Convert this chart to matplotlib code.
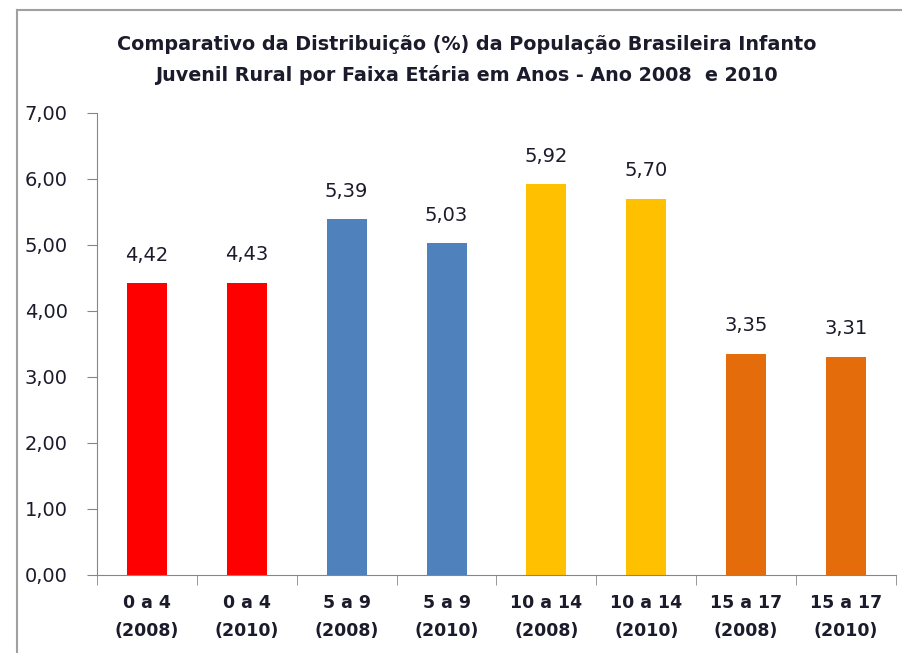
import numpy as np
import matplotlib.pyplot as plt
from matplotlib.lines import Line2D

categories = ['0 a 4\n(2008)', '0 a 4\n(2010)', '5 a 9\n(2008)', '5 a 9\n(2010)',
              '10 a 14\n(2008)', '10 a 14\n(2010)', '15 a 17\n(2008)', '15 a 17\n(2010)']
values = [4.42, 4.43, 5.39, 5.03, 5.92, 5.70, 3.35, 3.31]
colors = ['#FF0000', '#FF0000', '#4F81BD', '#4F81BD',
          '#FFC000', '#FFC000', '#E46C0A', '#E46C0A']

narrow = ['DejaVu Sans']
txt = '#1b1b2b'

fig = plt.figure(figsize=(9.03, 6.53), dpi=100)
ax = fig.add_axes([97/903, 1-575/653, (896-97)/903, (575-113)/653])

x = np.arange(len(values))
bars = ax.bar(x, values, width=0.4, color=colors)

ax.set_xlim(-0.5, len(values) - 0.5)
ax.set_ylim(0, 7)
ax.set_yticks(np.arange(0, 8))
ax.set_yticklabels([('%.2f' % v).replace('.', ',') for v in np.arange(0, 8)],
                   fontsize=14, color=txt)
ax.set_xticks(x)
ax.set_xticklabels(categories, fontsize=12.5, fontweight='bold', family=narrow,
                   color=txt, linespacing=1.65)
ax.tick_params(axis='x', length=0, pad=14)
ax.tick_params(axis='y', length=7, color='#868686', pad=14)

# category separator ticks
ax.set_xticks(np.arange(-0.5, len(values)), minor=True)
ax.tick_params(axis='x', which='minor', length=7, color='#868686')

for s in ['top', 'right']:
    ax.spines[s].set_visible(False)
for s in ['left', 'bottom']:
    ax.spines[s].set_color('#868686')

for b, v in zip(bars, values):
    ax.text(b.get_x() + b.get_width() / 2, v + 0.28, ('%.2f' % v).replace('.', ','),
            ha='center', va='bottom', fontsize=14, color=txt)

fig.text(0.517, 1 - 60/653, 'Comparativo da Distribuição (%) da População Brasileira Infanto\n'
         'Juvenil Rural por Faixa Etária em Anos - Ano 2008  e 2010',
         ha='center', va='center', fontsize=13.8, fontweight='bold', family=narrow,
         color=txt, linespacing=1.65)

# outer chart border
fig.add_artist(Line2D([17/903, 17/903], [0, 1 - 10/653], color='#a0a0a0', lw=1.5,
                      transform=fig.transFigure))
fig.add_artist(Line2D([17/903, 1], [1 - 10/653, 1 - 10/653], color='#a0a0a0', lw=1.5,
                      transform=fig.transFigure))

fig.savefig('out.png', dpi=100)
